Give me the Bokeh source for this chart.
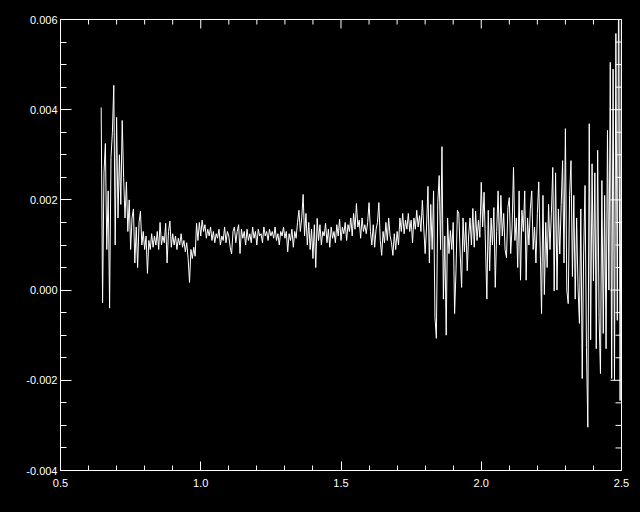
import numpy as np
from bokeh.plotting import figure
from bokeh.models import Range1d, LinearAxis, FixedTicker
from bokeh.embed import file_html
from bokeh.resources import INLINE

# Spectrum values (units of 1e-3), sampled every 0.005 starting at each segment's start wavelength
wave_step = 0.005

seg_a_start = 0.645
flux_a = [4.05, -0.28, 2.6, 3.25, 0.9, 2.2, -0.40, 2.94, 3.5, 4.54, 1.0, 3.83, 1.6, 3.0, 1.9, 3.76,
          2.5, 1.6, 2.4, 1.3, 2.0, 0.9, 1.6, 1.8, 0.6, 1.4, 0.5, 1.5, 1.75, 1.0, 1.3, 0.9]

seg_b_start = 0.805
flux_b = [1.2, 0.37, 1.1, 0.9, 1.25, 0.95, 1.2, 1.0, 1.3, 0.9, 1.5, 1.0, 1.2, 1.05, 1.48, 0.6,
          1.3, 1.53, 0.95, 1.25, 1.0, 1.2, 0.9, 1.15, 1.0, 1.25, 0.95, 1.1, 0.85, 1.05, 0.7, 0.17,
          0.9, 0.7, 0.95, 0.75, 1.48, 1.1, 1.5, 1.2]

seg_c_start = 1.005
flux_c = [1.55, 1.3, 1.45, 1.15, 1.35, 1.2, 1.4, 1.1, 1.3, 1.05, 1.25, 1.15, 1.35, 1.0, 1.2, 1.1,
          1.4, 1.05, 1.3, 1.2, 0.95, 0.8, 1.3, 1.4, 1.05, 1.3, 1.45, 0.81, 1.35, 1.15, 1.3, 1.0,
          1.35, 1.1, 1.25, 1.05, 1.4, 1.15, 1.3, 1.0, 1.35, 1.2, 1.25, 1.05, 1.4, 1.2, 1.3, 1.1,
          1.35, 1.2, 1.3, 1.15, 1.4, 1.1, 1.25, 1.0, 1.3, 1.2, 1.4, 1.15]

seg_d_start = 1.305
flux_d = [1.3, 0.85, 1.25, 1.1, 1.35, 0.95, 1.3, 1.15, 1.5, 1.77, 1.3, 1.6, 2.12, 1.2, 1.7, 1.0,
          1.5, 0.9, 1.35, 0.7, 1.45, 0.5, 1.59, 1.1, 1.45, 1.0, 1.3, 1.2, 1.48, 1.05, 1.35, 0.95,
          1.4, 1.15, 1.3, 1.05, 1.45, 1.2, 1.57, 1.1, 1.4, 1.25, 1.5, 1.1, 1.45, 1.3, 1.6, 1.2,
          1.7, 1.35, 1.92, 1.4, 1.55, 1.15, 1.6, 1.3, 1.45, 1.25, 1.5, 1.94]

seg_e_start = 1.605
flux_e = [1.3, 1.0, 1.45, 0.95, 1.35, 1.5, 1.94, 1.1, 0.77, 1.3, 1.05, 1.5, 1.1, 1.6, 1.2, 1.05,
          0.77, 1.25, 0.9, 1.3, 1.0, 1.6, 1.3, 1.7, 1.25, 1.55, 1.35, 1.7, 1.3, 1.55, 1.05, 1.6,
          1.35, 1.77, 1.4, 1.65, 1.3, 1.99, 1.4, 0.81]

seg_f_start = 1.805
flux_f = [1.4, 2.3, 0.6, 1.9, 0.9, 2.2, -0.6, -1.07, 1.94, 2.54, 0.9, 3.18, -0.2, 1.2, -1.0, 1.6,
          0.81, 1.32, 0.9, 1.5, -0.52, 0.43, 1.77, 1.7, 0.8, 0.06, 1.6, 0.85, 1.5, 0.43, 1.2, 1.6,
          1.0, 1.81, 0.95, 1.75, 1.1, 1.55, 1.17, 2.39]

seg_g_start = 2.005
flux_g = [1.4, 2.17, 1.0, -0.2, 1.77, 0.43, 1.6, 1.0, 1.83, 0.06, 1.3, 2.2, 1.0, 2.1, 1.2, 1.7,
          0.9, 0.72, 1.83, 2.05, 0.81, 1.4, 2.72, 1.1, 1.6, 0.5, 2.2, 0.22, 1.77, 1.3, 2.2, 0.22,
          1.6, 1.0, 1.8, 2.2, 0.9, 1.4, 0.6, 1.7]

seg_h_start = 2.205
flux_h = [2.4, 1.0, -0.52, 2.1, -0.1, 1.5, 0.5, 1.9, 0.9, 1.7, 2.72, -0.02, 2.6, 0.0, 1.8, 0.8,
          1.9, 2.87, 0.6, 3.58, 0.0, -0.3, 2.1, 2.87, 0.3, 2.1, -0.2, 1.6, 0.05, -0.74, 1.8, -1.96,
          0.8, 2.32, -1.27, -3.04, 3.69, -1.1, 2.8, 0.2, 2.6, -1.3, 3.1, -0.6, -1.85, 2.43, -0.96,
          2.1, -1.3, 3.54, 0.0, 5.05, -1.96, 4.9, -2.0, 5.69, -0.67, 7.5, -2.45, 6.8]

x_ticks = [0.5, 1.0, 1.5, 2.0, 2.5]
x_tick_labels = ["0.5", "1.0", "1.5", "2.0", "2.5"]
x_minor_ticks = [0.6, 0.7, 0.8, 0.9, 1.1, 1.2, 1.3, 1.4, 1.6, 1.7, 1.8, 1.9, 2.1, 2.2, 2.3, 2.4]
y_ticks = [-0.004, -0.002, 0.0, 0.002, 0.004, 0.006]
y_tick_labels = ["-0.004", "-0.002", "0.000", "0.002", "0.004", "0.006"]
y_minor_ticks = [-0.0035, -0.003, -0.0025, -0.0015, -0.001, -0.0005, 0.0005, 0.001, 0.0015,
                 0.0025, 0.003, 0.0035, 0.0045, 0.005, 0.0055]

X0, X1 = 0.5, 2.5
Y0, Y1 = -0.004, 0.006
FW, FH = 561, 451

segments = [(seg_a_start, flux_a), (seg_b_start, flux_b), (seg_c_start, flux_c), (seg_d_start, flux_d),
            (seg_e_start, flux_e), (seg_f_start, flux_f), (seg_g_start, flux_g), (seg_h_start, flux_h)]
xs, ys = [], []
for start, vals in segments:
    xs.extend(start + wave_step * np.arange(len(vals)))
    ys.extend(np.array(vals) * 1e-3)

p = figure(frame_width=FW, frame_height=FH, output_backend="svg", toolbar_location=None,
           x_range=Range1d(X0, X1), y_range=Range1d(Y0, Y1),
           min_border_left=60, min_border_right=11, min_border_top=19, min_border_bottom=30,
           background_fill_color="black", border_fill_color="black", x_axis_type=None, y_axis_type=None)
p.outline_line_color = "white"
p.xgrid.visible = False
p.ygrid.visible = False

def style(ax, labels):
    ax.axis_line_color = "white"
    ax.axis_line_width = 1
    ax.major_tick_line_color = "white"
    ax.minor_tick_line_color = "white"
    ax.major_tick_out = 0
    ax.minor_tick_out = 0
    ax.major_label_text_color = "white"
    ax.major_label_text_font = "Liberation Sans"
    ax.major_label_text_font_size = "11px"
    ax.major_label_overrides = labels

xt = FixedTicker(ticks=x_ticks, minor_ticks=x_minor_ticks)
yt = FixedTicker(ticks=y_ticks, minor_ticks=y_minor_ticks)

xax = LinearAxis(ticker=xt)
style(xax, {t: s for t, s in zip(x_ticks, x_tick_labels)})
xax.major_tick_in = 9
xax.minor_tick_in = 5
xax.major_label_standoff = 8
p.add_layout(xax, "below")

yax = LinearAxis(ticker=yt)
style(yax, {t: s for t, s in zip(y_ticks, y_tick_labels)})
yax.major_tick_in = 11
yax.minor_tick_in = 6
yax.major_label_standoff = 3
p.add_layout(yax, "left")

# mirrored inward ticks on the top and right edges (lengths converted from pixels to data units)
dy = (Y1 - Y0) / FH
dx = (X1 - X0) / FW
p.segment(x0=x_ticks, y0=[Y1] * len(x_ticks), x1=x_ticks, y1=[Y1 - 9 * dy] * len(x_ticks), line_color="white")
p.segment(x0=x_minor_ticks, y0=[Y1] * len(x_minor_ticks), x1=x_minor_ticks,
          y1=[Y1 - 5 * dy] * len(x_minor_ticks), line_color="white")
p.segment(x0=[X1] * len(y_ticks), y0=y_ticks, x1=[X1 - 11 * dx] * len(y_ticks), y1=y_ticks, line_color="white")
p.segment(x0=[X1] * len(y_minor_ticks), y0=y_minor_ticks, x1=[X1 - 6 * dx] * len(y_minor_ticks),
          y1=y_minor_ticks, line_color="white")

p.line(xs, ys, line_color="white", line_width=1)

html = file_html(p, INLINE)
html = html.replace("<body>", '<body style="background-color:black;">')
open("out.html", "w").write(html)
